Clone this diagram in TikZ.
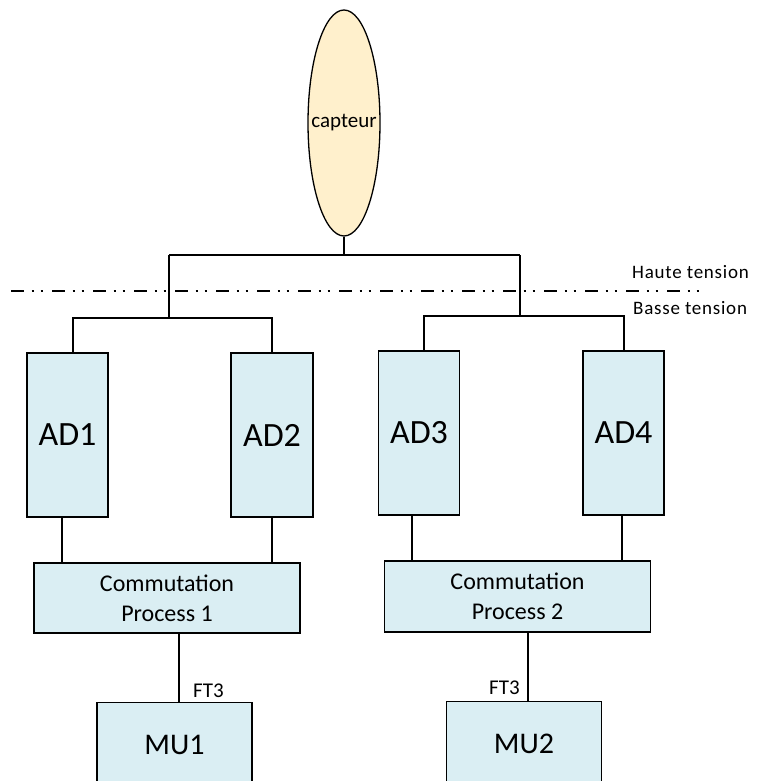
\documentclass[tikz,border=0pt]{standalone}
\usepackage{fontspec}
\setmainfont{Carlito}
\newfontfamily\spaced[LetterSpace=4]{Carlito}
\usetikzlibrary{shapes.geometric}
\definecolor{boxblue}{HTML}{DAEEF3}
\definecolor{capfill}{HTML}{FFF0CC}
\tikzset{
  blk/.style={draw=black, line width=1.3pt, fill=boxblue, rectangle, inner sep=0pt, text=black},
  adbox/.style={blk, minimum width=81pt, minimum height=164pt, font=\fontsize{34}{40}\selectfont},
  combox/.style={blk, minimum width=266pt, minimum height=70pt, align=center, font=\fontsize{24}{30}\selectfont},
  mubox/.style={blk, minimum width=155pt, minimum height=85pt, font=\fontsize{30}{36}\selectfont},
  wire/.style={draw=black, line width=1.3pt},
  sepline/.style={draw=black, line width=1.6pt, dash pattern=on 12.5pt off 8pt on 2pt off 7pt on 2pt off 9.5pt},
  lbl/.style={inner sep=0pt, anchor=base west, text=black},
}
\begin{document}
\begin{tikzpicture}[x=1pt,y=-1pt]
\useasboundingbox (0,0) rectangle (759,781);
\clip (0,0) rectangle (759,781);
\fill[white] (0,0) rectangle (759,781);

% sensor
\node[ellipse, draw=black, line width=1.3pt, fill=capfill, minimum width=72pt, minimum height=226pt, inner sep=0pt, font=\fontsize{21}{25}\selectfont] (cap) at (344,123) {\makebox[0pt]{capteur}};

% AD boxes
\node[adbox] (ad1) at (67.5,435) {AD1};
\node[adbox, minimum width=82pt] (ad2) at (272,435) {AD2};
\node[adbox] (ad3) at (419,433) {AD3};
\node[adbox] (ad4) at (623.5,433) {AD4};

% commutation boxes
\node[combox] (c1) at (167,598) {Commutation\\Process 1};
\node[combox, minimum height=71pt] (c2) at (517.5,596.5) {Commutation\\Process 2};

% MU boxes
\node[mubox] (mu1) at (174.5,745) {MU1};
\node[mubox] (mu2) at (524,744) {MU2};

% top tree
\coordinate (tL) at (169,255);
\coordinate (tR) at (520,255);
\coordinate (bL) at (169,318);
\coordinate (bR) at (520,316);
\draw[wire] (cap.south) -- (cap.south |- tL);
\draw[wire] (tL) -- (tR);
\draw[wire] (tL) -- (bL);
\draw[wire] (tR) -- (bR);
\draw[wire] ([xshift=5.5pt]ad1.north) |- (bL) -| (ad2.north);
\draw[wire] ([xshift=5pt]ad3.north) |- (bR) -| ([xshift=0.5pt]ad4.north);

% AD to commutation
\draw[wire] ([xshift=-5.5pt]ad1.south) -- ([xshift=-5.5pt]ad1.south |- c1.north);
\draw[wire] (ad2.south) -- (ad2.south |- c1.north);
\draw[wire] ([xshift=-7pt]ad3.south) -- ([xshift=-7pt]ad3.south |- c2.north);
\draw[wire] ([xshift=-1.5pt]ad4.south) -- ([xshift=-1.5pt]ad4.south |- c2.north);

% commutation to MU
\draw[wire] ([xshift=12pt]c1.south) -- ([xshift=12pt]c1.south |- mu1.north);
\draw[wire] ([xshift=10.5pt]c2.south) -- ([xshift=10.5pt]c2.south |- mu2.north);

\node[lbl, font=\fontsize{21}{25}\selectfont] (ft1) at (193,697) {FT3};
\node[lbl, font=\fontsize{21}{25}\selectfont] (ft2) at (489,694) {FT3};

% separation line
\coordinate (s0) at (11,291);
\coordinate (s1) at (700,291);
\draw[sepline] (s0) -- (s1);
\node[lbl, font=\spaced\fontsize{19}{23}\selectfont] (ht) at (632,278) {Haute tension};
\node[lbl, font=\spaced\fontsize{19}{23}\selectfont] (bt) at (633,314) {Basse tension};
\end{tikzpicture}
\end{document}
